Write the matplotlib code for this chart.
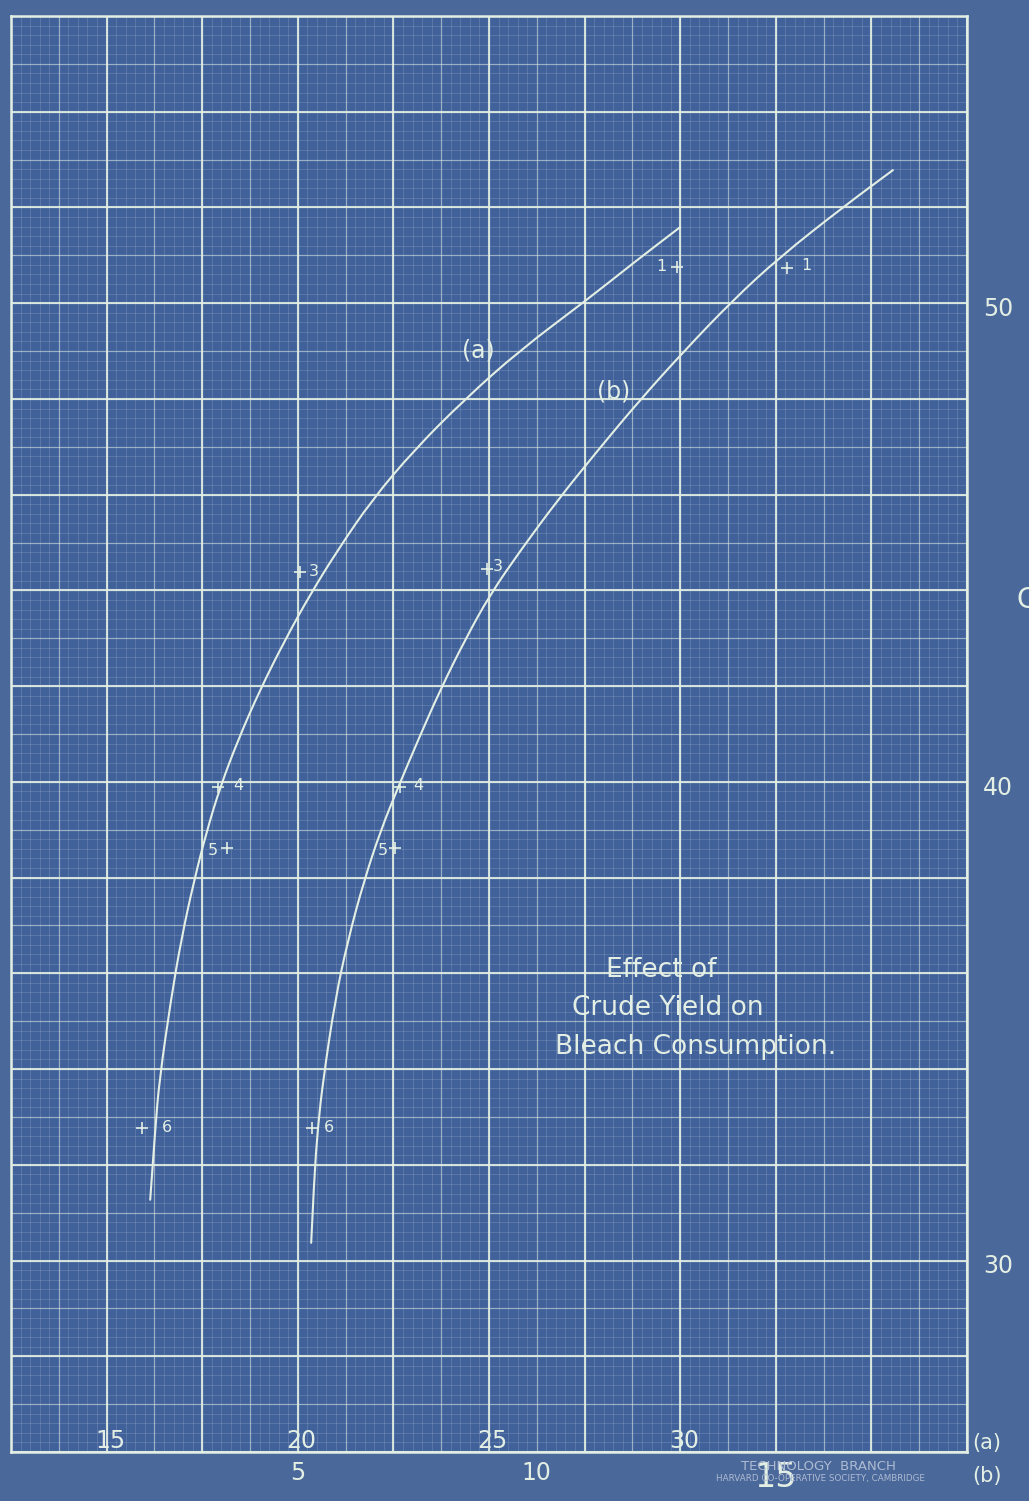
import numpy as np
import matplotlib
matplotlib.use("Agg")
import matplotlib.pyplot as plt
from matplotlib.path import Path
from matplotlib.patches import PathPatch

# ---- scales -------------------------------------------------------------
A_RANGE = (12.5, 37.5)      # lower scale (a)
B_RANGE = (-1.0, 19.0)      # lower scale (b)
Y_RANGE = (26.0, 56.0)

a_tick_values = [15, 20, 25, 30]
b_tick_values = [5, 10, 15]
y_tick_values = [30, 40, 50]

# ---- observations (numbered runs) --------------------------------------
point_ids = ["1", "3", "4", "5", "6"]
a_points_x = [29.92, 20.06, 17.91, 18.15, 15.93]
a_points_y = [50.76, 44.39, 39.89, 38.62, 32.77]
b_points_x = [15.23, 8.96, 7.14, 7.03, 5.30]
b_points_y = [50.74, 44.45, 39.89, 38.62, 32.77]

# ---- freehand curves ---------------------------------------------------
a_curve_x = [16.14, 16.27, 16.38, 16.68, 16.95, 17.29, 17.63, 17.97, 18.44,
             19.01, 19.67, 20.32, 21.05, 21.94, 23.04, 24.35, 25.81, 27.56,
             28.87, 30.00]
a_curve_y = [31.27, 32.73, 33.77, 35.44, 36.70, 37.95, 39.00, 39.89, 40.88,
             41.92, 42.97, 43.91, 44.85, 45.89, 46.93, 47.98, 49.02, 50.07,
             50.90, 51.59]
b_curve_x = [5.28, 5.34, 5.42, 5.53, 5.78, 6.05, 6.39, 6.74, 7.10, 7.52,
             7.98, 8.50, 9.02, 9.67, 10.44, 11.28, 12.16, 13.10, 14.11, 15.09,
             16.41, 17.45]
b_curve_y = [30.37, 31.68, 32.79, 33.77, 35.44, 36.70, 37.95, 39.00, 39.89,
             40.88, 41.92, 42.97, 43.91, 44.85, 45.89, 46.93, 47.98, 49.02,
             50.07, 50.97, 52.01, 52.78]

# ---- styling -------------------------------------------------------------
PAPER = "#4a6899"
FIELD = "#41619b"
INK = "#e3efe4"
FONT = ["DejaVu Sans"]

# label offsets (points) for the run numbers
a_label_offsets = [(-11, 0), (10, 0), (15, 1), (-10, -2), (18, 0)]
b_label_offsets = [(14, 2), (8, 2), (13, 1), (-9, -2), (12, 0)]

W, H = 1029, 1501
fig = plt.figure(figsize=(W / 100, H / 100), dpi=100, facecolor=PAPER)
left, right, top, bottom = 11, 967, 16, 1452
ax = fig.add_axes([left / W, 1 - bottom / H, (right - left) / W, (bottom - top) / H])
ax.set_facecolor(FIELD)
ax.set_xlim(*A_RANGE)
ax.set_ylim(*Y_RANGE)
ax.set_xticks([])
ax.set_yticks([])
for s in ax.spines.values():
    s.set_color(INK)
    s.set_linewidth(1.8)


def rule(step_x, step_y, lw, alpha):
    xs = np.arange(A_RANGE[0], A_RANGE[1] + 1e-6, step_x)
    ys = np.arange(Y_RANGE[0], Y_RANGE[1] + 1e-6, step_y)
    ax.vlines(xs, *Y_RANGE, colors=INK, lw=lw, alpha=alpha, zorder=1)
    ax.hlines(ys, *A_RANGE, colors=INK, lw=lw, alpha=alpha, zorder=1)


rule(0.25, 0.2, 0.5, 0.22)
rule(1.25, 1.0, 0.9, 0.48)
rule(2.5, 2.0, 1.5, 0.88)


def freehand(target, xs, ys):
    """Draw a smooth pen stroke guided by the traced points."""
    pts = np.column_stack([xs, ys])
    verts = [pts[0]]
    codes = [Path.MOVETO]
    for i in range(1, len(pts) - 1):
        verts += [pts[i], (pts[i] + pts[i + 1]) / 2]
        codes += [Path.CURVE3, Path.CURVE3]
    verts.append(pts[-1])
    codes.append(Path.LINETO)
    target.add_patch(PathPatch(Path(verts, codes), fill=False, edgecolor=INK,
                               lw=1.5, capstyle="round", zorder=3))


# curve (a) on scale (a)
freehand(ax, a_curve_x, a_curve_y)
ax.plot(a_points_x, a_points_y, ls="none", marker="+", ms=8, mew=1.2,
        color=INK, zorder=4)
for lab, x, y, off in zip(point_ids, a_points_x, a_points_y, a_label_offsets):
    ax.annotate(lab, (x, y), xytext=off, textcoords="offset points",
                ha="center", va="center", color=INK, fontsize=11.5, family=FONT)

# curve (b) on scale (b)
axb = ax.twiny()
axb.set_xlim(*B_RANGE)
axb.set_xticks([])
for s in axb.spines.values():
    s.set_visible(False)
freehand(axb, b_curve_x, b_curve_y)
axb.plot(b_points_x, b_points_y, ls="none", marker="+", ms=8, mew=1.2,
         color=INK, zorder=4)
for lab, x, y, off in zip(point_ids, b_points_x, b_points_y, b_label_offsets):
    axb.annotate(lab, (x, y), xytext=off, textcoords="offset points",
                 ha="center", va="center", color=INK, fontsize=11.5, family=FONT)

# curve names
ax.text(24.71, 49.02, "(a)", color=INK, fontsize=17, family=FONT,
        ha="center", va="center")
axb.text(11.6, 48.15, "(b)", color=INK, fontsize=17, family=FONT,
         ha="center", va="center")

# title block
title_lines = ["Effect of", "Crude Yield on", "Bleach Consumption."]
title_pos = [(28.06, 36.07), (27.17, 35.28), (26.73, 34.46)]
for t, (x, y) in zip(title_lines, title_pos):
    ax.text(x, y, t, color=INK, fontsize=19, family=FONT, ha="left", va="center")

# scale (a) numbers inside the field, scale (b) numbers below it
xa = ax.get_xaxis_transform()
for v in a_tick_values:
    ax.text(v + 0.1, -0.001, str(v), transform=xa, color=INK, fontsize=17,
            family=FONT, ha="center", va="bottom")
xb = axb.get_xaxis_transform()
for v in b_tick_values:
    big = v == 15
    axb.text(v, -0.006, str(v), transform=xb, color=INK,
             fontsize=24 if big else 17, family=FONT, ha="center", va="top",
             zorder=6)
ax.text(1.005, 0.006, "(a)", transform=ax.transAxes, color=INK, fontsize=15,
        family=FONT, ha="left", va="center")
ax.text(1.005, -0.017, "(b)", transform=ax.transAxes, color=INK, fontsize=15,
        family=FONT, ha="left", va="center")

# ordinate numbers at the right
ya = ax.get_yaxis_transform()
for v in y_tick_values:
    ax.text(1.017, v - 0.12, str(v), transform=ya, color=INK, fontsize=17,
            family=FONT, ha="left", va="center")
fig.text(1017 / W, 1 - 600 / H, "C", color=INK, fontsize=20, family=FONT,
         ha="left", va="center")

# printer's imprint on the sheet
fig.text(818 / W, 1 - 1466 / H, "TECHNOLOGY  BRANCH", color="#aebbd3",
         fontsize=9.5, family=FONT, ha="center", va="center")
fig.text(820 / W, 1 - 1479 / H, "HARVARD CO-OPERATIVE SOCIETY, CAMBRIDGE",
         color="#aebbd3", fontsize=6.3, family=FONT, ha="center", va="center")

fig.savefig("out.png", dpi=100, facecolor=PAPER)
